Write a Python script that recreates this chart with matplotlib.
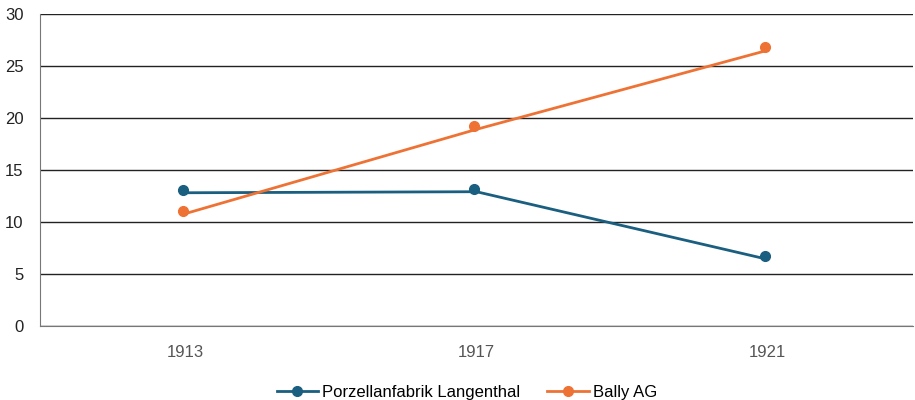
import matplotlib.pyplot as plt
import matplotlib.transforms as mtransforms

plt.rcParams['font.family'] = ['Liberation Sans', 'DejaVu Sans']

years = ['1913', '1917', '1921']
porzellan = [13.1, 13.2, 6.7]
bally = [11.1, 19.2, 26.8]
names = ['Porzellanfabrik Langenthal', 'Bally AG']
colors = ['#1a5e80', '#ee7234']

fig = plt.figure(figsize=(9.15, 4), dpi=100)
ax = fig.add_axes([40/915, 74/400, 873/915, 312/400])

x = list(range(len(years)))
# in the original the markers sit a few pixels up/left of the line vertices
line_shift = mtransforms.ScaledTranslation(0, -3/100, fig.dpi_scale_trans)
mark_shift = mtransforms.ScaledTranslation(-3/100, 0, fig.dpi_scale_trans)
for vals, name, c in zip([porzellan, bally], names, colors):
    ax.plot(x, vals, color=c, lw=2, transform=ax.transData + line_shift)
    ax.plot(x, vals, 'o', color=c, ms=7, transform=ax.transData + mark_shift)
    ax.plot([], [], '-o', color=c, lw=2, ms=7, label=name)

ax.set_xlim(-0.5, 2.5)
ax.set_ylim(0, 30)
ax.set_yticks(range(0, 31, 5))
ax.set_xticks(x)
ax.set_xticklabels(years)
ax.grid(axis='y', color='#222222', lw=1)
ax.set_axisbelow(True)
for s in ['top', 'right']:
    ax.spines[s].set_visible(False)
ax.spines['left'].set_color('#777777')
ax.spines['bottom'].set_color('#777777')
ax.tick_params(axis='y', length=0, pad=12, labelsize=12, labelcolor='#222222')
ax.tick_params(axis='x', length=0, pad=14, labelsize=12, labelcolor='#555555')

ax.legend(loc='upper center', bbox_to_anchor=(0.489, -0.14), ncol=2, frameon=False,
          fontsize=12, handlelength=2.5, columnspacing=1.6, handletextpad=0.25)

fig.savefig('out.png', dpi=100)
